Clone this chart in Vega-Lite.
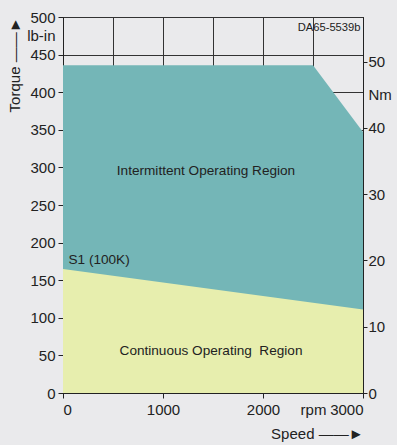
{
  "$schema": "https://vega.github.io/schema/vega-lite/v6.json",
  "width": 300,
  "height": 376,
  "background": "#eaeaec",
  "padding": {"top": 10, "left": 7, "right": 5, "bottom": 5},
  "config": {
    "font": "Liberation Sans",
    "view": {"stroke": "#222", "strokeWidth": 1},
    "axis": {
      "labelFontSize": 15,
      "titleFontSize": 15,
      "titleFontWeight": "normal",
      "labelColor": "#222",
      "titleColor": "#222",
      "tickColor": "#222",
      "domainColor": "#222",
      "gridColor": "#333",
      "gridOpacity": 1,
      "gridWidth": 1,
      "tickSize": 5
    }
  },
  "datasets": {
    "intermittent": [
      {"rpm": 0, "torque": 436},
      {"rpm": 2500, "torque": 436},
      {"rpm": 3000, "torque": 347}
    ],
    "continuous": [
      {"rpm": 0, "torque": 165},
      {"rpm": 3000, "torque": 111}
    ],
    "labels": [
      {"text": "Intermittent Operating Region", "rpm": 1430, "torque": 295},
      {"text": "Continuous Operating \u00a0Region", "rpm": 1480, "torque": 56}
    ],
    "leftlabels": [
      {"text": "S1 (100K)", "rpm": 55, "torque": 177}
    ],
    "rightlabels": [
      {"text": "DA65-5539b", "rpm": 2975, "torque": 485}
    ],
    "nm": [{"nm": 0}, {"nm": 50}]
  },
  "layer": [
    {
      "layer": [
        {
          "data": {"name": "intermittent"},
          "mark": {"type": "area", "color": "#74b6b7", "opacity": 1}
        },
        {
          "data": {"name": "continuous"},
          "mark": {"type": "area", "color": "#e7eeae", "opacity": 1}
        },
        {
          "data": {"name": "labels"},
          "mark": {"type": "text", "fontSize": 13.6, "color": "#222", "align": "center", "baseline": "middle"},
          "encoding": {"text": {"field": "text"}}
        },
        {
          "data": {"name": "leftlabels"},
          "mark": {"type": "text", "fontSize": 13.6, "color": "#222", "align": "left", "baseline": "middle"},
          "encoding": {"text": {"field": "text"}}
        },
        {
          "data": {"name": "rightlabels"},
          "mark": {"type": "text", "fontSize": 11.2, "color": "#222", "align": "right", "baseline": "middle"},
          "encoding": {"text": {"field": "text"}}
        }
      ],
      "encoding": {
        "x": {
          "field": "rpm",
          "type": "quantitative",
          "scale": {"domain": [0, 3000], "nice": false},
          "axis": {
            "values": [0, 500, 1000, 1500, 2000, 2500, 3000],
            "format": "d",
            "labelExpr": "datum.value == 2500 ? 'rpm' : (datum.value % 1000 == 0 ? datum.label : '')",
            "tickOpacity": {"condition": {"test": "datum.value % 1000 != 0", "value": 0}, "value": 1},
            "labelPadding": 4,
            "title": "Speed ——►",
            "titleAnchor": "end",
            "titlePadding": 9
          }
        },
        "y": {
          "field": "torque",
          "type": "quantitative",
          "scale": {"domain": [0, 500], "nice": false},
          "axis": {
            "values": [0, 50, 100, 150, 200, 250, 300, 350, 400, 450, 475, 500],
            "labelExpr": "datum.value == 475 ? 'lb-in' : datum.label",
            "tickOpacity": {"condition": {"test": "datum.value == 475", "value": 0}, "value": 1},
            "gridOpacity": {"condition": {"test": "datum.value == 475", "value": 0}, "value": 1},
            "labelPadding": 3,
            "title": "Torque ——►",
            "titleAnchor": "end",
            "titlePadding": 4
          }
        }
      }
    },
    {
      "data": {"name": "nm"},
      "mark": {"type": "point", "opacity": 0},
      "encoding": {
        "y": {
          "field": "nm",
          "type": "quantitative",
          "scale": {"domain": [0, 56.75], "nice": false},
          "axis": {
            "orient": "right",
            "values": [0, 10, 20, 30, 40, 45, 50],
            "labelExpr": "datum.value == 45 ? 'Nm' : datum.label",
            "tickOpacity": {"condition": {"test": "datum.value == 45", "value": 0}, "value": 1},
            "grid": false,
            "tickSize": 4,
            "labelPadding": 1,
            "title": null
          }
        }
      }
    }
  ],
  "resolve": {"scale": {"y": "independent"}}
}
